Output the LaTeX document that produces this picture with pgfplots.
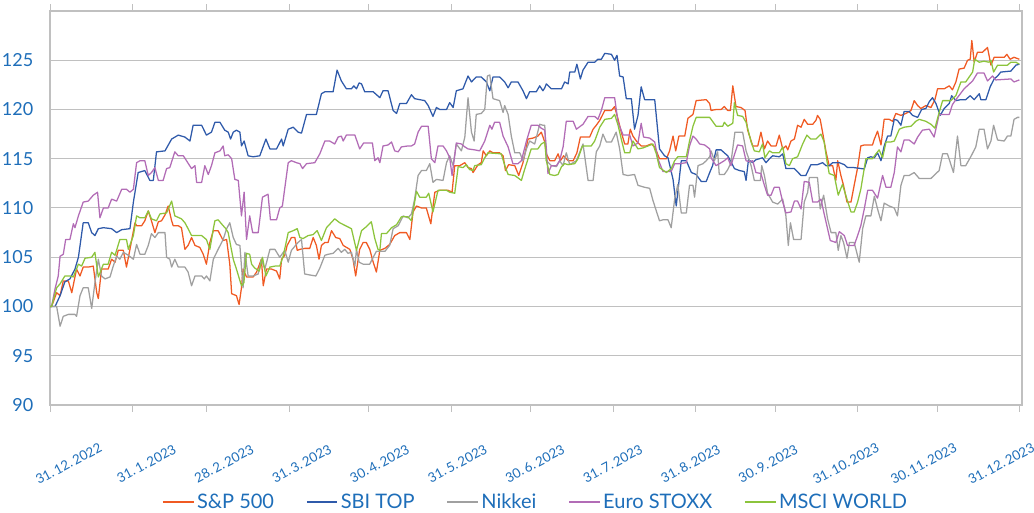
\documentclass[border=0pt]{standalone}
\usepackage{fontspec}
\setmainfont{Lato}
\usepackage{pgfplots}
\pgfplotsset{compat=1.18}
\definecolor{spc}{RGB}{240,90,35}
\definecolor{sbic}{RGB}{47,90,170}
\definecolor{nikc}{RGB}{160,160,160}
\definecolor{euroc}{RGB}{178,108,182}
\definecolor{mscic}{RGB}{140,196,60}
\definecolor{txtc}{RGB}{30,110,185}
\definecolor{gridc}{RGB}{192,192,192}
\begin{document}
\begin{tikzpicture}
\path[use as bounding box] (0,0) rectangle (775.5pt,384.75pt);
\begin{axis}[
  at={(37.5pt,81pt)}, anchor=south west,
  scale only axis, width=729pt, height=295.5pt,
  xmin=0, xmax=366, ymin=90, ymax=130,
  ytick={90,95,...,125},
  ymajorgrids, grid style={gridc, line width=0.75pt},
  axis line style={gridc, line width=0.9pt},
  xtick={0,31,59,90,120,151,181,212,243,273,304,334,365},
  xticklabels={},
  tick align=outside,
  x tick style={gridc, line width=0.75pt},
  major tick length=5pt,
  y tick style={draw=none},
  /pgf/number format/assume math mode=true,
  yticklabel style={font=\fontsize{13.5}{13.5}\selectfont, text=txtc, xshift=-4pt},
  extra x ticks={7.0,36.3,65.5,94.8,124.1,153.4,182.6,211.9,241.2,270.4,299.7,329.0,358.2},
  extra x tick labels={31.\,12.\,2022,31.\,1.\,2023,28.\,2.\,2023,31.\,3.\,2023,30.\,4.\,2023,31.\,5.\,2023,30.\,6.\,2023,31.\,7.\,2023,31.\,8.\,2023,30.\,9.\,2023,31.\,10.\,2023,30.\,11.\,2023,31.\,12.\,2023},
  extra x tick style={major tick length=0pt, x tick style={draw=none},
    xticklabel style={yshift=-44pt, rotate=28, anchor=center, inner sep=0pt, font=\fontsize{10}{10}\selectfont, text=txtc}},
  legend style={draw=none, fill=none, at={(0.5,-0.246)}, anchor=center, legend columns=5,
    font=\fontsize{15}{15}\selectfont, nodes={inner sep=2pt}, /tikz/every even column/.append style={column sep=22pt}},
  legend image code/.code={\draw[#1, line width=1.1pt] (0pt,0pt) -- (23pt,0pt);},
  every axis plot/.append style={line width=0.95pt, line join=round},
]
% S&P 500
\addplot[spc] coordinates {
(0,100)(0.6,100)(2.5,101.4)(3.8,101.1)(5.0,102.6)(6.9,102.6)(8.2,101.4)(10.0,103.8)(11.3,103.1)(12.5,104.0)(14.4,104.0)(16.3,104.1)(17.6,101.4)(18.2,100.8)(19.4,103.8)(21.9,103.8)(23.2,104.8)(24.5,104.5)(25.7,105.7)(27.6,105.7)(28.8,104.0)(30.1,105.8)(32.0,108.5)(32.6,108.2)(34.5,108.2)(35.7,108.7)(37.0,109.7)(38.2,108.7)(39.5,107.5)(40.8,108.6)(42.0,108.7)(43.3,109.3)(44.5,110.2)(45.8,108.7)(46.4,108.2)(48.3,108.2)(49.5,108.0)(50.8,105.8)(52.0,106.2)(53.3,107.0)(54.6,106.2)(56.4,106.0)(57.7,105.3)(58.9,104.3)(60.2,106.5)
(61.5,107.7)(63.3,107.7)(65.2,106.7)(66.5,106.8)(67.7,104.3)(68.4,101.3)(70.2,101.1)(71.2,100.2)(72.1,101.9)(72.7,103.8)(74.0,103.0)(76.5,103.0)(77.8,103.5)(79.6,104.8)(80.3,102.1)(81.5,103.8)(83.4,103.8)(85.3,103.6)(86.5,102.8)(87.2,104.8)(88.4,105.2)(89.3,106.2)(90.9,107.0)(92.2,107.0)(93.1,105.7)(94.1,105.8)(95.9,105.9)(97.8,105.9)(99.1,107.0)(100.3,106.2)(101.3,104.8)(102.2,106.2)(103.5,106.5)(104.7,106.5)(106.0,107.7)(107.6,107.0)(109.1,106.9)(110.4,106.2)(112.9,105.8)(114.1,104.8)(115.1,103.1)(116.6,105.8)(117.9,106.5)(119.1,106.5)(120.4,105.8)(121.7,104.5)(122.9,103.5)(124.2,105.7)
(126.1,105.9)(127.9,106.3)(129.8,107.2)(131.7,107.5)(134.2,107.5)(135.5,106.8)(136.7,109.6)(138.0,110.2)(139.9,110.0)(141.7,110.0)(143.4,108.4)(144.9,111.6)(146.8,111.8)(149.9,111.8)(151.4,111.6)(152.4,114.3)(154.3,114.3)(156.2,114.6)(157.4,114.1)(158.7,114.0)(159.3,113.6)(161.2,114.4)(162.4,114.6)(163.1,115.8)(164.3,115.3)(165.6,115.8)(166.8,115.6)(169.3,115.6)(170.6,115.3)(171.5,113.8)(172.7,114.4)(175.0,114.3)(176.5,113.3)(178.1,114.6)(180.0,117.0)(181.9,117.1)(183.7,117.3)(185.0,117.7)(186.3,116.7)
(186.9,115.5)(188.2,114.8)(190.0,114.8)(191.3,115.5)(192.2,114.8)(193.4,115.3)(195.1,114.8)(197.0,114.8)(198.4,115.6)(199.7,117.2)(203.2,117.2)(204.5,118.0)(205.7,118.4)(207.0,118.9)(208.9,119.9)(211.4,119.9)(212.6,120.3)(213.9,119.0)(215.1,117.7)(216.4,116.5)(217.6,116.5)(218.5,118.0)(219.5,117.3)(220.8,116.8)(222.6,116.3)(224.5,116.3)(226.4,116.5)(227.7,116.2)(229.5,115.0)(232.1,115.0)(233.3,115.8)(234.6,117.3)(235.6,115.8)(236.8,117.3)(239.0,117.3)(240.2,119.1)(242.1,119.5)(243.3,120.9)(247.1,121.0)(248.4,120.6)
(248.9,119.9)(250.8,120.0)(252.7,120.0)(253.9,120.3)(255.2,119.9)(256.2,119.9)(257.1,122.4)(258.3,120.3)(260.2,120.2)(261.7,119.9)(262.7,117.9)(264.6,116.3)(266.5,116.3)(267.7,117.7)(269.0,116.0)(270.2,116.8)(271.5,116.3)(273.4,116.3)(274.6,117.4)(275.9,116.0)(277.1,116.3)(277.8,115.9)(279.0,116.8)(280.3,117.0)(281.5,118.4)(282.8,118.2)(284.0,119.0)(285.3,118.5)(287.2,118.5)(288.4,118.9)(289.0,119.4)(290.0,119.0)(290.9,117.7)(292.2,115.7)(293.4,114.3)(294.7,114.3)(295.9,112.8)(296.6,114.8)(297.8,113.3)(298.8,112.3)(300.1,110.6)(301.6,110.6)(302.8,112.3)(304.1,114.1)(305.3,116.3)(306.6,116.4)(309.1,116.4)
(309.7,116.4)(310.4,117.0)(311.6,117.8)(312.9,116.4)(314.1,119.0)(316.0,119.0)(317.3,118.8)(318.5,119.6)(320.4,119.4)(322.3,119.6)(324.2,119.9)(325.4,120.9)(326.7,120.4)(327.9,120.1)(329.8,120.4)(331.7,120.2)(333.2,121.0)(334.2,122.1)(336.7,122.1)(338.6,122.4)(339.8,122.0)(341.1,122.8)(342.3,124.1)(344.2,124.2)(345.5,125.0)(346.5,125.1)(347.1,127.0)(348.0,124.8)(349.2,125.8)(351.1,125.8)(353.0,126.3)(354.3,124.5)(355.5,125.3)(359.3,125.3)(360.3,125.6)(361.5,125.1)(363.0,125.3)(365,125.1)
};
\addlegendentry{\textcolor{txtc}{S\&P 500}}
% SBI TOP
\addplot[sbic] coordinates {
(0,100)(1.9,100)(3.8,101.1)(5.6,102.5)(7.5,102.8)(9.4,103.8)(10.7,105.0)(12.5,108.5)(14.4,108.5)(15.7,107.5)(16.9,107.2)(18.2,107.9)(20.1,108.0)(23.2,107.9)(25.1,107.5)(27.0,107.8)(30.1,107.9)(31.4,110.6)(33.2,113.6)(35.7,113.8)(37.6,112.8)(38.9,112.8)(40.1,115.7)(43.3,115.8)(45.8,117.0)(48.3,117.4)(50.8,117.2)(52.7,116.8)(53.9,118.4)(57.1,118.4)(58.9,117.4)(60.8,117.7)
(62.1,118.7)(64.0,118.7)(65.8,117.9)(67.1,117.7)(68.0,117.0)(69.0,117.7)(70.2,117.9)(71.5,117.7)(72.1,116.3)(73.1,116.8)(74.6,115.3)(76.5,115.2)(79.0,115.3)(81.3,117.0)(82.8,116.0)(85.3,116.0)(87.2,117.0)(87.8,116.3)(89.7,118.0)(91.6,118.2)(93.4,117.7)(94.7,117.6)(96.6,119.5)(100.3,119.5)(102.2,121.6)(103.5,121.8)(106.6,121.8)(108.1,124.0)(109.7,122.9)(111.6,122.1)(113.5,122.1)(114.4,122.4)(115.4,122.1)(116.4,122.7)(117.3,122.6)(118.5,121.8)(121.7,121.8)(124.2,121.2)
(125.4,121.9)(127.3,121.9)(129.2,119.9)(130.5,119.6)(131.7,120.6)(134.2,120.6)(136.1,121.5)(137.3,121.1)(141.1,120.9)(142.4,120.4)(144.2,119.3)(145.5,120.2)(146.8,120.0)(149.3,120.0)(150.5,120.7)(151.8,120.2)(153.0,121.9)(155.5,122.1)(157.4,123.4)(158.7,122.8)(160.5,123.3)(162.4,123.3)(164.3,122.8)(165.6,121.9)(166.8,123.3)(169.3,123.3)(171.2,122.8)(172.5,122.2)(173.7,122.8)(176.2,122.8)(178.1,121.9)(179.4,121.1)(180.6,121.8)(183.1,121.8)(184.4,122.4)(185.6,121.9)(186.3,122.2)
(186.9,122.6)(188.8,122.1)(192.6,122.1)(193.8,122.8)(195.1,122.6)(195.7,123.8)(197.6,123.8)(198.4,124.6)(199.7,123.1)(200.7,124.0)(202.6,124.8)(205.1,124.8)(206.3,125.1)(207.6,125.1)(208.9,125.7)(211.4,125.6)(212.6,125.0)(213.5,125.5)(214.5,123.4)(215.8,123.3)(217.0,121.1)(218.9,121.1)(220.1,118.0)(221.4,119.4)(222.6,122.3)(223.9,121.0)(227.7,121.0)(229.5,116.0)(231.4,115.3)(232.7,115.1)(234.6,112.9)(235.8,110.2)(237.7,114.8)(239.6,114.8)(241.5,113.6)(243.3,113.4)(245.2,112.7)(247.1,112.7)(248.4,113.6)
(249.5,114.3)(250.8,115.9)(252.7,115.9)(253.9,115.6)(255.2,115.3)(256.4,114.7)(257.7,114.0)(259.6,113.8)(261.4,113.7)(262.1,112.8)(263.0,114.9)(264.6,114.6)(265.8,114.9)(267.1,115.0)(268.3,115.1)(269.6,114.6)(270.9,115.0)(272.1,115.3)(274.6,115.2)(275.9,115.5)(277.1,114.0)(280.3,114.0)(282.8,113.3)(284.6,113.3)(286.5,114.4)(289.0,114.4)(290.9,114.6)(292.2,114.3)(293.4,114.3)(294.7,114.6)(297.2,114.6)(299.1,114.4)(300.3,114.1)(302.8,114.1)(306.6,113.96)(307.9,115.1)(309.1,115.2)
(310.4,115.1)(311.6,115.6)(312.9,114.8)(314.1,116.3)(315.4,117.3)(316.6,117.3)(317.9,119.0)(319.1,118.9)(320.4,118.4)(321.6,119.8)(323.5,119.8)(324.8,119.4)(326.7,119.2)(328.2,120.0)(329.8,120.1)(331.1,120.8)(332.3,121.2)(333.6,120.6)(335.2,119.4)(336.7,120.1)(338.6,120.6)(339.5,121.4)(341.1,120.9)(343.0,121.0)(344.8,121.0)(346.5,121.4)(348.0,121.0)(349.9,121.6)(350.5,121.0)(352.4,121.0)(354.0,122.3)(355.5,123.1)(356.8,123.4)(358.0,123.8)(361.8,123.9)(363.7,124.5)(365,124.6)
};
\addlegendentry{\textcolor{txtc}{SBI TOP}}
% Nikkei
\addplot[nikc] coordinates {
(0,100)(2.5,100)(3.8,98.0)(5.0,99.0)(6.9,99.2)(9.4,99.2)(10.0,99.0)(11.3,101.1)(12.5,101.9)(14.4,101.9)(15.7,99.8)(16.9,102.4)(18.2,104.8)(19.4,103.1)(20.7,102.8)(22.6,103.0)(23.8,104.1)(25.1,105.1)(26.3,104.8)(27.6,105.5)(29.5,105.2)(31.4,104.8)(32.6,106.3)(33.9,105.3)(35.7,105.3)(37.0,106.2)(38.2,107.4)(39.5,107.0)(40.8,107.5)(43.3,107.5)(43.9,105.0)(45.1,104.8)(45.8,104.0)(47.0,104.8)(48.3,104.0)(50.8,104.0)(52.0,103.5)(53.3,102.1)(54.6,103.1)(57.1,103.1)(58.1,102.8)(58.9,103.1)(60.2,102.6)
(61.5,104.8)(63.3,105.8)(65.2,106.8)(66.5,107.9)(67.7,108.5)(69.0,107.0)(70.2,106.3)(71.5,106.2)(72.7,101.9)(73.4,105.5)(74.6,103.1)(76.5,103.1)(78.4,103.3)(79.6,104.8)(80.9,103.8)(82.8,105.8)(84.7,105.8)(86.5,105.0)(88.4,105.7)(89.7,104.5)(90.9,105.7)(93.4,106.5)(94.7,106.8)(95.9,103.3)(97.8,103.2)(100.1,103.1)(101.6,103.9)(103.5,105.2)(104.7,105.3)(106.6,105.4)(108.5,105.9)(109.7,105.5)(111.0,105.8)(112.2,105.4)(113.5,105.5)(114.8,104.1)(115.4,105.8)(116.4,104.5)(117.9,104.3)(120.4,104.3)(121.7,105.0)(122.9,105.6)(124.2,105.6)
(126.1,105.6)(127.9,106.2)(129.2,107.9)(131.1,108.2)(133.0,109.2)(134.8,109.0)(136.1,109.4)(137.3,110.9)(138.6,113.3)(139.9,113.8)(141.7,113.8)(143.0,114.5)(144.2,112.6)(145.5,112.9)(148.0,112.8)(149.3,114.6)(150.5,115.3)(151.8,114.3)(153.0,116.5)(154.9,115.8)(156.2,117.2)(157.4,121.2)(158.7,117.7)(159.7,116.8)(160.5,119.5)(162.4,119.6)(163.7,120.0)(164.7,123.4)(165.6,123.5)(166.8,121.1)(169.3,120.9)(170.6,119.7)(171.2,120.4)(172.5,119.5)(173.7,117.3)(175.0,115.6)(176.9,115.6)(178.1,114.8)(179.4,116.0)(180.6,116.8)(182.5,116.5)(184.4,118.5)(185.6,118.4)(186.3,118.4)
(186.9,114.8)(188.8,114.3)(190.7,114.2)(191.9,114.8)(193.2,114.3)(194.4,115.6)(195.7,114.4)(198.2,114.8)(200.7,116.5)(202.6,112.8)(204.5,112.8)(205.7,115.7)(207.0,116.3)(208.2,117.5)(209.5,116.7)(211.4,116.7)(213.2,117.7)(214.5,116.0)(215.8,113.4)(217.6,113.3)(220.1,113.4)(221.4,112.3)(223.9,112.1)(225.8,112.0)(227.0,110.8)(228.3,109.7)(229.5,108.7)(230.8,108.8)(232.7,108.8)(233.9,108.0)(235.2,110.9)(236.4,112.4)(237.7,109.5)(239.6,109.5)(240.8,112.3)(242.1,112.3)(242.7,111.1)(244.0,114.3)(245.9,114.5)(247.1,114.8)(248.4,115.2)
(248.9,115.8)(250.2,114.8)(251.4,115.7)(252.0,113.4)(253.9,113.4)(255.2,113.9)(256.4,114.6)(257.9,117.7)(260.8,117.7)(262.1,115.8)(264.0,114.3)(265.2,112.8)(267.5,112.8)(268.0,114.3)(269.0,113.3)(270.2,111.5)(272.1,110.6)(274.0,110.4)(275.9,110.9)(277.1,109.2)(278.0,106.2)(278.8,108.5)(280.0,106.8)(282.8,106.8)(284.0,110.6)(285.3,111.6)(285.9,113.1)(289.0,113.1)(290.0,109.9)(291.3,111.3)(292.8,108.9)(294.1,107.5)(295.9,107.5)(296.8,105.7)(297.8,107.2)(298.8,106.5)(300.1,104.9)(301.0,106.5)(302.8,106.5)(304.7,104.5)(306.0,107.9)(307.2,109.2)(309.1,109.2)
(310.4,111.2)(311.6,109.9)(312.9,108.7)(314.1,110.5)(316.0,110.2)(317.9,110.0)(319.1,109.2)(320.4,112.3)(321.6,113.3)(323.5,113.3)(325.4,113.6)(327.3,113.0)(331.7,113.0)(333.6,113.5)(334.8,113.8)(336.1,115.5)(337.9,115.5)(339.0,114.6)(340.2,113.6)(341.7,117.3)(343.0,114.3)(344.8,114.3)(346.7,115.2)(348.6,116.2)(349.9,118.0)(351.7,118.0)(353.0,116.0)(354.3,116.8)(355.3,118.4)(356.8,116.9)(359.3,116.8)(360.5,117.3)(361.8,117.3)(363.0,119.0)(364.3,119.2)(365,119.2)
};
\addlegendentry{\textcolor{txtc}{Nikkei}}
% Euro STOXX
\addplot[euroc] coordinates {
(0,100)(0.6,100)(1.9,101.8)(3.1,103.1)(3.8,105.1)(5.0,105.3)(5.9,106.8)(7.5,106.8)(8.8,108.4)(9.4,108.0)(10.7,109.2)(12.5,110.6)(14.4,110.7)(16.3,111.3)(17.9,111.6)(18.8,109.0)(20.1,110.0)(21.9,110.0)(23.2,110.9)(25.1,110.7)(27.0,111.9)(28.8,111.9)(30.1,111.6)(31.4,111.9)(32.6,114.6)(33.9,114.8)(35.7,114.8)(37.0,113.3)(38.2,113.6)(39.5,114.1)(40.8,112.8)(42.6,112.8)(43.9,114.0)(45.1,114.1)(47.0,115.7)(48.3,115.3)(50.2,115.3)(51.4,114.8)(53.3,114.0)(54.6,114.3)(55.2,112.6)(57.1,112.6)(58.3,114.3)(59.6,113.4)(60.8,114.3)
(61.5,115.0)(62.1,115.6)(64.0,115.8)(65.2,116.3)(65.8,115.3)(67.1,115.4)(68.4,115.0)(69.6,112.9)(70.9,112.8)(72.1,109.2)(73.1,111.6)(74.0,106.8)(75.2,109.2)(76.3,107.5)(78.4,107.5)(80.0,111.1)(82.1,111.4)(83.0,108.8)(85.3,108.8)(86.5,110.0)(87.5,110.2)(89.7,114.6)(90.9,114.8)(92.8,114.6)(94.1,114.5)(95.1,114.0)(96.6,114.5)(99.7,114.6)(101.6,115.5)(103.5,116.8)(105.3,116.8)(107.2,116.5)(108.5,117.2)(109.7,117.3)(110.4,116.8)(111.6,117.4)(114.8,117.4)(116.6,116.0)(118.1,116.6)(121.4,116.6)(122.3,114.8)(123.5,115.1)(124.2,114.6)
(125.4,116.3)(127.3,116.4)(128.6,116.7)(129.8,115.8)(131.1,115.7)(132.3,116.2)(134.8,116.3)(136.1,116.3)(137.3,116.5)(138.6,117.7)(139.9,118.3)(142.4,118.3)(143.6,115.0)(144.9,114.6)(146.1,116.3)(148.0,116.3)(149.3,115.8)(150.5,115.1)(151.4,113.3)(153.0,116.6)(154.9,116.5)(156.2,116.2)(157.4,116.0)(159.9,115.9)(161.8,115.8)(163.7,116.8)(165.6,118.4)(166.4,118.0)(167.4,118.7)(169.3,118.7)(170.6,117.3)(172.5,116.2)(174.3,114.5)(176.2,114.5)(177.5,114.8)(179.4,116.8)(181.2,118.4)(183.7,118.4)(185.0,118.1)(186.3,117.9)
(186.9,116.0)(187.5,113.5)(188.8,114.3)(190.7,114.3)(191.9,114.8)(193.2,116.2)(194.4,118.8)(197.0,118.8)(198.2,118.0)(200.7,118.5)(202.6,119.3)(205.1,119.3)(206.3,119.0)(207.6,119.9)(208.9,121.2)(212.6,121.2)(213.9,118.7)(215.8,117.4)(218.3,117.4)(219.5,116.3)(221.4,116.6)(222.6,118.6)(223.5,117.2)(225.8,117.1)(227.7,116.7)(228.9,115.0)(230.8,113.7)(233.9,113.7)(235.2,114.5)(237.1,114.5)(239.6,114.6)(240.8,116.3)(242.1,117.3)(243.3,117.0)(244.6,116.5)(246.5,116.4)(248.4,116.0)
(248.9,115.1)(250.8,114.3)(252.7,114.6)(253.9,114.8)(255.2,115.1)(256.4,114.3)(257.7,115.4)(258.9,116.4)(260.8,116.3)(262.1,114.8)(263.3,114.7)(264.6,114.8)(265.8,113.6)(267.7,113.5)(269.0,112.3)(270.2,111.3)(271.5,111.3)(272.7,112.1)(274.6,112.1)(275.9,110.6)(277.1,109.5)(279.0,109.6)(280.3,110.7)(281.5,110.7)(282.8,109.9)(284.0,112.7)(285.9,112.6)(287.2,110.6)(289.0,110.6)(290.3,110.9)(291.5,109.4)(293.8,106.7)(295.9,106.5)(297.2,107.6)(299.1,107.2)(300.3,106.2)(302.8,106.2)(304.1,107.2)(305.3,108.2)(306.6,109.9)(307.9,111.8)(309.7,111.8)
(311.6,111.0)(313.5,113.3)(314.8,112.1)(316.6,112.1)(317.9,113.6)(319.1,116.2)(320.4,115.7)(321.6,116.9)(323.5,116.9)(325.4,116.5)(326.7,117.2)(328.5,117.9)(331.1,118.0)(332.9,117.2)(334.8,119.5)(338.6,119.5)(339.8,120.5)(341.1,121.0)(344.2,122.1)(347.4,122.9)(349.2,123.7)(351.7,123.7)(353.0,122.9)(354.9,123.4)(356.1,123.0)(361.8,123.1)(363.0,122.8)(365,123.0)
};
\addlegendentry{\textcolor{txtc}{Euro STOXX}}
% MSCI WORLD
\addplot[mscic] coordinates {
(0,100)(0.6,100)(2.5,101.9)(3.8,102.3)(5.6,103.1)(7.5,103.1)(8.8,103.0)(10.7,104.3)(11.9,104.1)(13.2,104.9)(15.7,105.0)(16.9,105.5)(18.2,103.0)(20.1,104.3)(21.9,104.3)(23.2,105.5)(24.5,105.2)(26.3,106.8)(28.8,106.8)(29.5,105.8)(31.4,107.2)(32.6,109.2)(33.9,109.0)(35.7,109.0)(37.0,109.7)(38.2,108.9)(40.1,108.7)(41.4,109.4)(43.9,109.5)(45.8,110.7)(47.0,109.2)(49.5,108.9)(50.8,108.5)(52.0,107.9)(53.3,107.2)(57.1,107.2)(58.9,106.8)(60.2,105.8)(61.5,107.9)(62.1,108.7)
(63.3,108.8)(65.2,108.2)(66.2,107.9)(67.1,107.5)(68.0,106.2)(69.0,104.8)(70.2,103.8)(72.1,102.1)(73.0,102.4)(74.0,105.4)(75.2,105.3)(75.9,104.3)(77.1,103.9)(78.8,103.6)(80.0,105.0)(81.3,103.1)(82.8,104.0)(84.7,104.1)(86.5,104.1)(87.8,105.1)(89.7,107.5)(91.6,107.7)(93.1,107.9)(94.1,107.0)(95.3,106.9)(97.2,107.2)(99.1,107.3)(100.6,107.7)(102.2,106.7)(104.1,108.0)(107.2,108.9)(109.1,108.5)(113.5,107.9)(115.4,105.7)(117.3,107.7)(119.1,108.1)(121.0,108.6)(122.3,106.9)(123.5,105.8)(124.2,105.7)
(124.8,107.4)(126.7,107.4)(128.6,108.0)(130.5,108.3)(132.3,109.1)(134.8,109.1)(136.1,108.7)(138.0,111.7)(139.2,111.1)(141.7,111.1)(142.6,111.5)(144.2,109.6)(146.1,111.8)(149.3,111.8)(150.5,111.6)(152.4,111.5)(153.7,114.2)(155.5,114.1)(156.8,114.4)(158.0,113.9)(159.3,113.8)(159.9,114.3)(162.4,114.4)(163.7,115.1)(164.9,115.6)(169.9,115.5)(171.5,114.1)(172.5,113.4)(175.0,113.3)(177.5,112.8)(178.7,113.9)(181.2,116.0)(183.7,116.0)(185.0,116.5)(186.3,116.7)
(186.9,114.8)(188.2,113.4)(190.0,113.3)(191.3,113.4)(192.6,114.2)(193.8,114.5)(195.1,114.4)(197.6,114.5)(198.8,115.0)(200.5,116.3)(203.8,116.3)(205.1,116.8)(207.0,118.2)(208.9,119.0)(211.4,119.1)(212.6,119.5)(213.9,118.4)(215.1,117.0)(216.4,115.6)(218.3,115.6)(219.5,116.8)(221.4,116.0)(223.3,116.1)(225.2,116.3)(227.0,116.5)(228.3,115.5)(229.5,114.1)(232.1,113.6)(233.9,114.0)(235.2,114.8)(236.4,115.2)(239.6,115.2)(240.8,116.8)(242.1,118.3)(243.3,119.2)(248.4,119.2)
(250.8,118.3)(253.3,118.3)(253.9,118.7)(255.2,118.3)(257.1,118.6)(257.7,120.7)(258.9,119.4)(260.8,119.3)(262.1,118.7)(264.0,116.7)(265.2,115.8)(267.1,115.7)(268.3,116.5)(269.2,115.1)(270.9,115.8)(272.1,115.6)(274.6,115.6)(275.9,116.2)(277.1,114.5)(278.4,114.3)(279.6,115.0)(281.5,115.2)(283.4,116.5)(285.0,117.4)(286.5,117.0)(288.4,117.0)(290.3,117.5)(291.5,116.7)(292.6,114.7)(293.4,113.5)(295.3,113.3)(296.8,111.3)(298.4,112.4)(300.3,110.7)(301.6,109.6)(302.8,109.6)(304.1,110.6)(305.3,111.9)(307.2,115.0)(309.1,115.0)
(309.7,115.0)(311.0,115.5)(312.2,115.9)(313.5,115.1)(314.8,116.7)(316.6,116.7)(317.9,116.8)(319.8,118.0)(321.6,118.2)(324.2,118.3)(326.0,118.8)(327.3,119.0)(329.8,118.8)(331.7,118.5)(333.2,118.1)(334.8,119.7)(336.1,120.9)(339.2,120.9)(341.1,121.4)(343.0,122.8)(344.8,122.8)(347.4,123.8)(348.2,125.1)(349.9,124.8)(351.7,124.9)(353.6,124.8)(354.3,125.0)(355.3,123.8)(356.8,124.5)(360.5,124.5)(361.8,124.8)(363.7,124.8)(365,124.6)
};
\addlegendentry{\textcolor{txtc}{MSCI WORLD}}
\end{axis}
\end{tikzpicture}
\end{document}
